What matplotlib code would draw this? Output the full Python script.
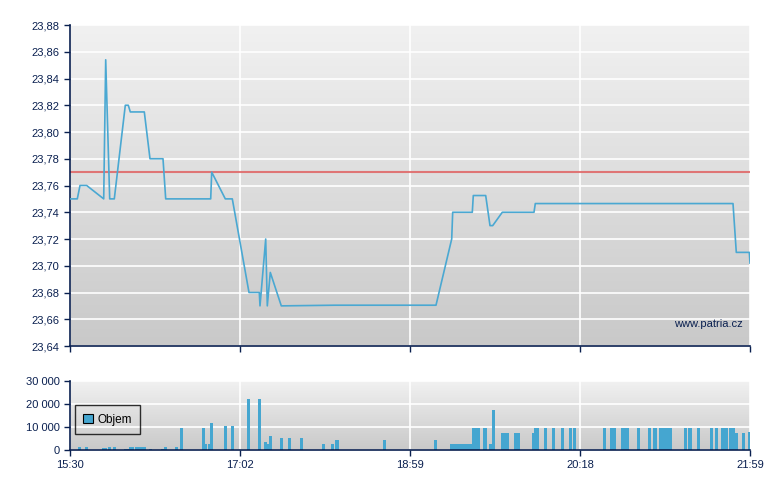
import numpy as np
import matplotlib
matplotlib.use('Agg')
import matplotlib.pyplot as plt
from matplotlib.ticker import FixedLocator, FuncFormatter

plt.rcParams['font.family'] = ['Liberation Sans', 'DejaVu Sans']

# time axis is trade-based: ticks are evenly spaced
tick_pos = [0, 170, 340, 510, 680]
tick_labels = ['15:30', '17:02', '18:59', '20:18', '21:59']

price_x = [0, 7.3, 10, 16.7, 33.7, 35.7, 39.7, 44.3, 55.3, 58.3, 60.3, 74.3, 80, 93,
           95.7, 140.7, 141.7, 155.3, 162.3, 179, 189.3, 190, 195.7, 197.3, 200.3,
           211.3, 265, 366, 381.7, 382.7, 402.3, 403.3, 415.7, 420, 422.7, 432.3,
           464, 465.3, 663, 666.3, 679.3, 680]
price = [23.75, 23.75, 23.76, 23.76, 23.75, 23.854, 23.75, 23.75, 23.82, 23.82, 23.815,
         23.815, 23.78, 23.78, 23.75, 23.75, 23.77, 23.75, 23.75, 23.68, 23.68, 23.67,
         23.72, 23.67, 23.695, 23.67, 23.6705, 23.6705, 23.72, 23.74, 23.74, 23.7525,
         23.7525, 23.73, 23.73, 23.74, 23.74, 23.7465, 23.7465, 23.71, 23.71, 23.702]
prev_close = 23.77

vol_x = [9.5, 16.3, 33.2, 35.4, 39.5, 44.3, 55.2, 57.5, 60.3, 62.5, 66.5, 69.5, 72.5,
         74.6, 80.2, 92.3, 95.3, 106.3, 111.3, 133.3, 135.8, 139.5, 141.3, 155.3, 162.3,
         178.8, 189.3, 195.3, 197.7, 200.2, 211.3, 219.3, 231.3, 253.3, 262.3, 266.2,
         267.7, 314.3,
         365.3, 381.5, 384.5, 387.5, 390.5, 393.5, 396.5, 399.5, 400.6, 403.5, 406.5,
         408.6, 414.5, 415.6, 420.5, 423.5, 432.5, 435.5, 437.6, 445.5, 448.6, 463.0,
         465.5, 467.6, 475.5, 483.5, 492.5, 500.5, 504.5, 534.5, 541.5, 544.6, 552.5,
         555.5, 557.6, 568.5, 579.5, 584.5, 585.6, 590.5, 593.5, 596.5, 599.5, 600.6,
         615.5, 619.5, 620.6, 628.5, 641.5, 646.5, 652.5, 655.5, 656.6, 660.5, 663.6,
         666.5, 673.5, 679.0]
vol = [1300, 1300, 900, 900, 1300, 1300, 500, 500, 1300, 1300, 1300, 1300, 1300,
       1300, 500, 500, 1300, 1300, 9700, 9700, 2700, 2700, 11800, 10500, 10500,
       22000, 22000, 3500, 2700, 6100, 5300, 5300, 5300, 2700, 2700, 4500,
       4500, 4500,
       4400, 2800, 2800, 2800, 2800, 2800, 2800, 2800, 2800, 9700, 9700,
       9700, 9700, 9700, 2800, 17200, 7500, 7500, 7500, 7500, 7500, 7500,
       9700, 9700, 9700, 9700, 9700, 9700, 9700, 9700, 9700, 9700, 9700,
       9700, 9700, 9700, 9700, 9700, 9700, 9700, 9700, 9700, 9700, 9700,
       9700, 9700, 9700, 9700, 9700, 9700, 9700, 9700, 9700, 9700, 9700,
       7400, 7400, 7900]

navy = '#0a2050'
line_blue = '#4aa8d2'
bar_blue = '#45a6d0'

fig = plt.figure(figsize=(7.8, 4.9), dpi=100)
ax = fig.add_axes([70 / 780, 1 - 346 / 490, 680 / 780, 321 / 490])
axv = fig.add_axes([70 / 780, 1 - 450 / 490, 680 / 780, 69 / 490])

grad = np.linspace(0, 1, 256).reshape(-1, 1)
for a in (ax, axv):
    a.imshow(grad, aspect='auto', cmap=plt.matplotlib.colors.LinearSegmentedColormap.from_list(
        'bg', ['#f1f1f1', '#c9c9c9']), extent=[0, 1, 0, 1], transform=a.transAxes,
        zorder=0, interpolation='bicubic')
    for s in ('top', 'right'):
        a.spines[s].set_visible(False)
    for s in ('left', 'bottom'):
        a.spines[s].set_color(navy)
        a.spines[s].set_linewidth(1.2)
    a.tick_params(colors=navy, labelcolor=navy, labelsize=8, length=4, width=1)
    a.set_xlim(0, 680)
    a.xaxis.set_major_locator(FixedLocator(tick_pos))
    a.grid(True, color='white', linewidth=1.2, zorder=1)
    a.set_axisbelow(True)

# price panel
ax.set_ylim(23.64, 23.88)
ax.yaxis.set_major_locator(FixedLocator(np.arange(23.64, 23.8801, 0.02)))
ax.yaxis.set_major_formatter(FuncFormatter(lambda v, p: ('%.2f' % v).replace('.', ',')))
ax.set_xticklabels([])
ax.axhline(prev_close, color='#e06a6a', linewidth=1.5, alpha=0.9, zorder=2)
ax.plot(price_x, price, color=line_blue, linewidth=1.2, zorder=3)
ax.text(0.99, 0.07, 'www.patria.cz', transform=ax.transAxes, ha='right', va='center',
        color=navy, fontsize=8)

# volume panel
axv.set_ylim(0, 30000)
axv.yaxis.set_major_locator(FixedLocator([0, 10000, 20000, 30000]))
axv.yaxis.set_major_formatter(FuncFormatter(lambda v, p: '{:,}'.format(int(v)).replace(',', ' ')))
axv.set_xticklabels(tick_labels)
axv.bar(vol_x, vol, width=2.8, color=bar_blue, linewidth=0, zorder=2, label='Objem')
leg = axv.legend(loc='lower left', bbox_to_anchor=(5 / 680, 16 / 69), frameon=True,
                 fancybox=False, fontsize=8.5, handlelength=0.8, handleheight=0.8,
                 borderpad=0.7, handletextpad=0.4, borderaxespad=0)
leg.get_frame().set_edgecolor('black')
leg.get_frame().set_facecolor('none')
leg.get_frame().set_linewidth(1)
for h in leg.legend_handles:
    h.set_edgecolor('black')
    h.set_linewidth(0.8)

fig.savefig('out.png', dpi=100)
